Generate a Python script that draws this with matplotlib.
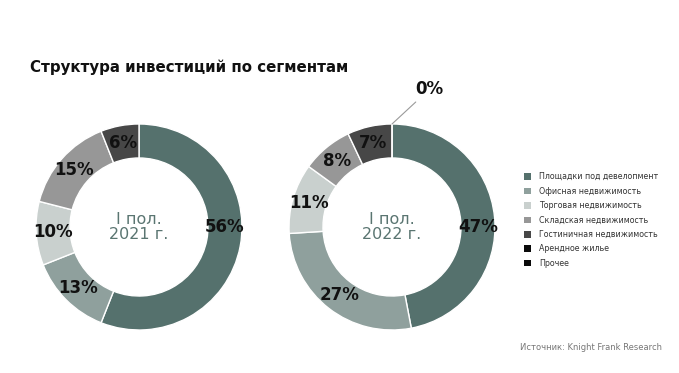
import numpy as np
import matplotlib.pyplot as plt
from matplotlib.patches import Patch

categories = ['Площадки под девелопмент', 'Офисная недвижимость', 'Торговая недвижимость',
              'Складская недвижимость', 'Гостиничная недвижимость', 'Арендное жилье', 'Прочее']
colors = ['#55716d', '#8fa09d', '#c9d0ce', '#979797', '#474747', '#0a0a0a', '#0a0a0a']
values_2021 = [56, 13, 10, 15, 6]
values_2022 = [47, 27, 11, 8, 7, 0]
centers = ['I пол.\n2021 г.', 'I пол.\n2022 г.']

W, H = 679, 373
fig = plt.figure(figsize=(W / 100, H / 100), dpi=100)
fig.patch.set_facecolor('white')

R = 103  # outer radius in px


def draw_donut(cx, cy, values, center_text):
    ax = fig.add_axes([(cx - R) / W, (H - cy - R) / H, 2 * R / W, 2 * R / H])
    ax.pie(values, colors=colors[:len(values)], startangle=90, counterclock=False,
           radius=1, wedgeprops=dict(width=0.33, edgecolor='white', linewidth=1))
    ax.set_xlim(-1, 1)
    ax.set_ylim(-1, 1)
    ax.axis('off')
    total = sum(values)
    cum = 0
    big = int(np.argmax(values))
    for i, v in enumerate(values):
        mid = (cum + v / 2) / total * 2 * np.pi
        cum += v
        if v == 0:
            # leader line for zero segment
            a = cum / total * 2 * np.pi
            ax.annotate(f'{v}%', xy=(np.sin(a) * 1.0, np.cos(a) * 1.0), xytext=(27, 25),
                        textcoords='offset points', ha='center', va='center',
                        fontsize=12, fontweight='bold', color='#111111',
                        arrowprops=dict(arrowstyle='-', color='#9a9a9a', lw=0.8,
                                        shrinkA=1, shrinkB=0))
            continue
        if i == big:
            mid = np.pi / 2
        r = 0.835
        ax.text(np.sin(mid) * r, np.cos(mid) * r, f'{v}%', ha='center', va='center',
                fontsize=12, fontweight='bold', color='#111111')
    ax.text(0, 0, center_text, ha='center', va='center', fontsize=11.5,
            color='#5a7571', linespacing=1.0)


draw_donut(139, 227, values_2021, centers[0])
draw_donut(392, 227, values_2022, centers[1])

fig.text(30 / W, 1 - 67 / H, 'Структура инвестиций по сегментам', fontsize=10.8,
         fontweight='bold', color='#111111', va='center', ha='left')

handles = [Patch(facecolor=c, edgecolor='none') for c in colors]
fig.legend(handles, categories, loc='upper left', bbox_to_anchor=(521 / W, 1 - 169 / H),
           frameon=False, fontsize=5.7, handlelength=0.9, handleheight=0.9,
           handletextpad=1.0, labelspacing=0.69, labelcolor='#333333', borderaxespad=0)

fig.text(520 / W, 1 - 347 / H, 'Источник: Knight Frank Research', fontsize=6.0,
         color='#777777', va='center', ha='left')

fig.savefig('out.png', dpi=100)
